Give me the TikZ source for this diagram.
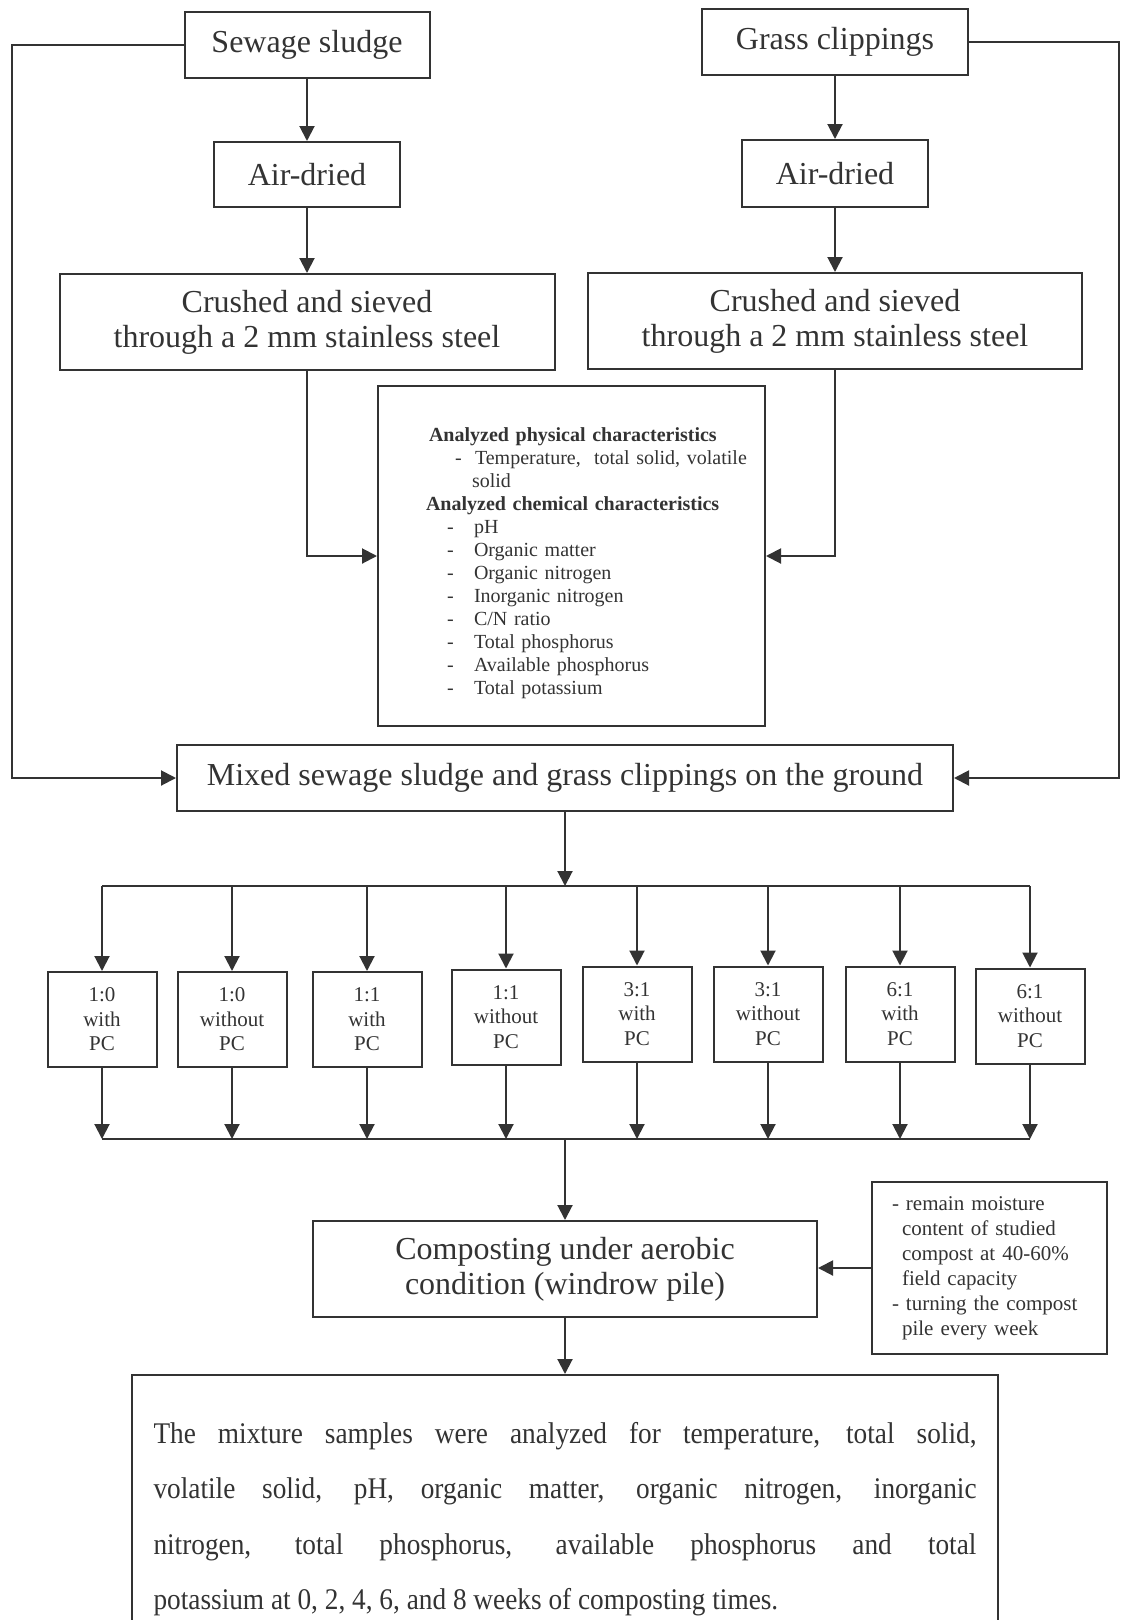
\documentclass[tikz,border=0pt]{standalone}
\usepackage{fontspec}
\setmainfont{Liberation Serif}
\newfontfamily\resultfont[FakeStretch=0.91]{Liberation Serif}
\usetikzlibrary{arrows.meta}
\definecolor{linegray}{HTML}{333333}

\begin{document}
\begin{tikzpicture}[x=1pt, y=-1pt]
    \tikzstyle{box}=[draw=linegray, line width=2pt, text=linegray, inner sep=0pt, align=center]
    \tikzstyle{big}=[box, font=\fontsize{32}{35}\selectfont]
    \tikzstyle{ratio}=[box, font=\fontsize{21}{24.5}\selectfont, minimum width=109pt, minimum height=95pt]
    \tikzstyle{flow}=[draw=linegray, line width=2pt, -{Triangle[length=15pt, width=15pt]}]
    \tikzstyle{link}=[draw=linegray, line width=2pt]

    \useasboundingbox (0,0) rectangle (1121,1620);

    % sources
    \node[big, minimum width=245pt, minimum height=66pt] (sludge) at (307, 45) {Sewage sludge};
    \node[big, minimum width=266pt, minimum height=66pt] (grass) at (835, 42) {Grass clippings};

    \node[big, minimum width=186pt, minimum height=65pt] (dry_s) at (307, 174.5) {Air-dried};
    \node[big, minimum width=186pt, minimum height=67pt] (dry_g) at (835, 173.5) {Air-dried};

    \node[big, minimum width=495pt, minimum height=96pt] (crush_s) at (307, 322) {Crushed and sieved\\through a 2 mm stainless steel};
    \node[big, minimum width=494pt, minimum height=96pt] (crush_g) at (835, 321) {Crushed and sieved\\through a 2 mm stainless steel};

    \draw[flow] (sludge) -- (dry_s);
    \draw[flow] (dry_s) -- (crush_s);
    \draw[flow] (grass) -- (dry_g);
    \draw[flow] (dry_g) -- (crush_g);

    % analysis box
    \node[box, font=\fontsize{20}{23}\selectfont, text width=387pt, minimum height=340pt, align=left] (analysis) at (571.5, 556) {%
        \rule{0pt}{29pt}\hspace*{51pt}\textbf{Analyzed physical characteristics}\\
        \hspace*{77pt}\makebox[20pt][l]{-}Temperature,\ \ total solid, volatile\\
        \hspace*{94pt}solid\\
        \hspace*{48pt}\textbf{Analyzed chemical characteristics}\\
        \hspace*{69pt}\makebox[27pt][l]{-}pH\\
        \hspace*{69pt}\makebox[27pt][l]{-}Organic matter\\
        \hspace*{69pt}\makebox[27pt][l]{-}Organic nitrogen\\
        \hspace*{69pt}\makebox[27pt][l]{-}Inorganic nitrogen\\
        \hspace*{69pt}\makebox[27pt][l]{-}C/N ratio\\
        \hspace*{69pt}\makebox[27pt][l]{-}Total phosphorus\\
        \hspace*{69pt}\makebox[27pt][l]{-}Available phosphorus\\
        \hspace*{69pt}\makebox[27pt][l]{-}Total potassium};

    \draw[flow] (crush_s.south) |- (analysis.west);
    \draw[flow] (crush_g.south) |- (analysis.east);

    % mixing
    \node[big, minimum width=776pt, minimum height=66pt] (mixed) at (565, 778) {Mixed sewage sludge and grass clippings on the ground};

    \coordinate (side_l) at (12, 45);
    \coordinate (side_r) at (1119, 42);
    \draw[flow] (sludge.west) -- (side_l) |- (mixed.west);
    \draw[flow] (grass.east) -- (side_r) |- (mixed.east);

    % treatments
    \coordinate (bar_t) at (565, 886);
    \coordinate (bar_b) at (565, 1139);
    \draw[flow] (mixed) -- (bar_t);
    \foreach \x/\y/\mix/\pc [count=\i] in {102/1019.5/1:0/with, 232/1019.5/1:0/without, 367/1019.5/1:1/with, 506/1017/1:1/without,
                                        637/1014/3:1/with, 768/1014/3:1/without, 900/1014/6:1/with, 1030/1016/6:1/without}
    {
        \node[ratio] (r_\i) at (\x, \y) {\mix\\\pc\\PC};
        \coordinate (t_\i) at (\x, 886);
        \coordinate (b_\i) at (\x, 1139);
        \draw[flow] (t_\i) -- (r_\i);
        \draw[flow] (r_\i) -- (b_\i);
    }
    \draw[link] (t_1) -- (t_8);
    \draw[link] (b_1) -- (b_8);

    % composting
    \node[big, minimum width=504pt, minimum height=96pt] (compost) at (565, 1269) {Composting under aerobic\\condition (windrow pile)};
    \draw[flow] (bar_b) -- (compost);

    \node[box, font=\fontsize{21}{25}\selectfont, text width=195pt, minimum width=235pt, minimum height=172pt, align=left] (note) at (989.5, 1268) {%
        - remain moisture\\
        \hspace*{10pt}content of studied\\
        \hspace*{10pt}compost at 40-60\%\\
        \hspace*{10pt}field capacity\\
        - turning the compost\\
        \hspace*{10pt}pile every week};
    \draw[flow] (note.west) -- (note.west -| compost.east);

    % result
    \node[box, font=\resultfont\fontsize{30}{55.5}\selectfont, text width=823pt, minimum width=866pt, inner ysep=47pt, align=justify, anchor=north] (result) at (565, 1374) {%
        The mixture samples were analyzed for temperature, total solid,\linebreak
        volatile solid, pH, organic matter, organic nitrogen, inorganic\linebreak
        nitrogen, total phosphorus, available phosphorus and total\linebreak
        potassium at 0, 2, 4, 6, and 8 weeks of composting times.};
    \draw[flow] (compost) -- (result);

\end{tikzpicture}
\end{document}
